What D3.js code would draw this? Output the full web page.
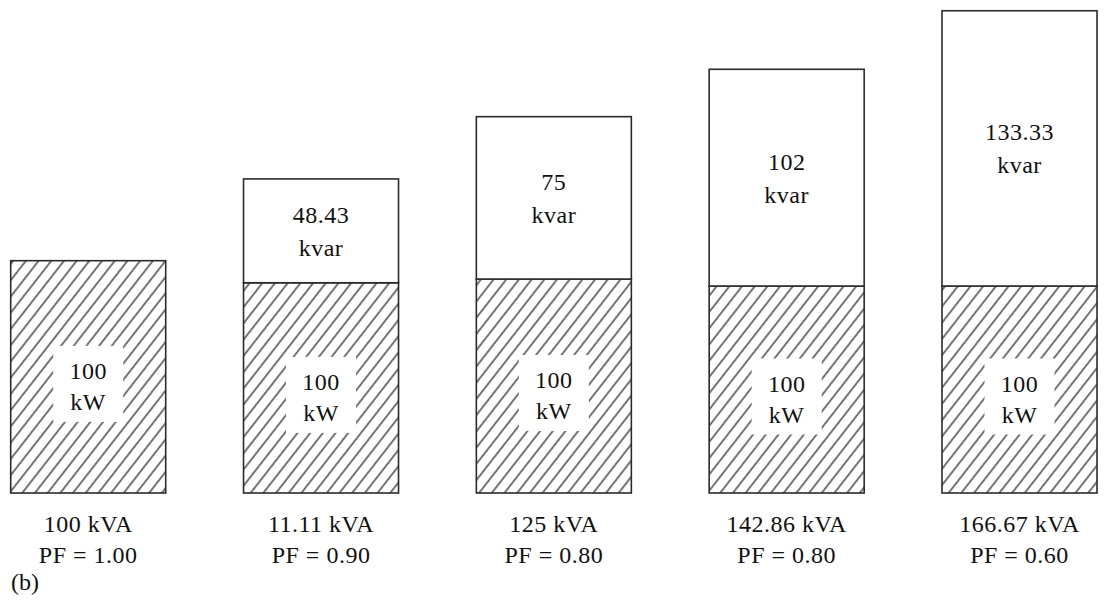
<!DOCTYPE html>
<html>
<head>
<meta charset="utf-8">
<script src="https://cdn.jsdelivr.net/npm/d3@7/dist/d3.min.js"></script>
</head>
<body style="margin:0;background:#fff">
<svg id="chart" width="1107" height="603" font-family="Liberation Serif, Times New Roman, serif"></svg>
<script>
// ---- data ----
const categories   = ["A", "B", "C", "D", "E"];
const kwLabels     = ["100", "100", "100", "100", "100"];
const kvarLabels   = ["", "48.43", "75", "102", "133.33"];
const kvaLabels    = ["100 kVA", "11.11 kVA", "125 kVA", "142.86 kVA", "166.67 kVA"];
const pfLabels     = ["PF = 1.00", "PF = 0.90", "PF = 0.80", "PF = 0.80", "PF = 0.60"];
// apparent drawn heights of each segment (bar 1 total = 100 units)
const kwDrawn      = [100, 90.5, 92.1, 89.1, 89.1];
const kvarDrawn    = [0, 44.7, 69.9, 93.3, 118.5];
const panelLabel   = "(b)";

// ---- layout ----
const FONT = "Liberation Serif, Times New Roman, serif";
const svg = d3.select("#chart").style("font-family", FONT);
const baseY = 493, topRef = 260.7;
const y = d3.scaleLinear().domain([0, 100]).range([baseY, topRef]);
const x = d3.scalePoint().domain(categories).range([88.2, 1019.5]);
const barW = 155;
const ink = "#2b2b2b";
const txt = "#111";

// hatch pattern
const defs = svg.append("defs");
const pat = defs.append("pattern")
  .attr("id", "hatch")
  .attr("patternUnits", "userSpaceOnUse")
  .attr("width", 10).attr("height", 10)
  .attr("patternTransform", "rotate(38)");
pat.append("rect").attr("width", 10).attr("height", 10).attr("fill", "#fff");
pat.append("line").attr("x1", 1).attr("x2", 1).attr("y1", 0).attr("y2", 10)
  .attr("stroke", ink).attr("stroke-width", 1.3);

const rows = categories.map((c, i) => ({
  c, kw: kwDrawn[i], kvar: kvarDrawn[i],
  kwL: kwLabels[i], kvarL: kvarLabels[i], kva: kvaLabels[i], pf: pfLabels[i]
}));

// bars
const barsLayer = svg.append("g");
// kW (hatched) segment
barsLayer.selectAll("rect.kw").data(rows).join("rect").attr("class", "kw")
  .attr("x", d => x(d.c) - barW / 2)
  .attr("y", d => y(d.kw))
  .attr("width", barW)
  .attr("height", d => y(0) - y(d.kw))
  .attr("fill", "url(#hatch)")
  .attr("stroke", ink).attr("stroke-width", 1.6);
// kvar (white) segment
barsLayer.selectAll("rect.kvar").data(rows.filter(d => d.kvar > 0)).join("rect").attr("class", "kvar")
  .attr("x", d => x(d.c) - barW / 2)
  .attr("y", d => y(d.kw + d.kvar))
  .attr("width", barW)
  .attr("height", d => y(d.kw) - y(d.kw + d.kvar))
  .attr("fill", "#fff")
  .attr("stroke", ink).attr("stroke-width", 1.6);

// kW label boxes
const kwB = d => y(d.kw / 2) + 2;
barsLayer.selectAll("rect.box").data(rows).join("rect").attr("class", "box")
  .attr("x", d => x(d.c) - 35)
  .attr("y", d => kwB(d) - 33)
  .attr("width", 70).attr("height", 76)
  .attr("fill", "#fff");

// texts
function labels(cls, data, xf, yf, t) {
  svg.selectAll("text." + cls).data(data).join("text").attr("class", cls)
    .attr("x", xf).attr("y", yf)
    .attr("text-anchor", "middle")
    .attr("font-family", FONT)
    .style("font-family", FONT)
    .attr("font-size", 24)
    .attr("letter-spacing", 0.5)
    .attr("fill", txt)
    .text(t);
}
labels("kw1", rows, d => x(d.c), kwB, d => d.kwL);
labels("kw2", rows, d => x(d.c), d => kwB(d) + 31, "kW");

const kvB = d => y(d.kw + d.kvar / 2) - 8;
const kvRows = rows.filter(d => d.kvar > 0);
labels("kv1", kvRows, d => x(d.c), kvB, d => d.kvarL);
labels("kv2", kvRows, d => x(d.c), d => kvB(d) + 33, "kvar");

labels("kva", rows, d => x(d.c), 531.5, d => d.kva);
labels("pf", rows, d => x(d.c), 563, d => d.pf);

svg.append("text").attr("x", 11).attr("y", 590)
  .attr("font-family", FONT).style("font-family", FONT)
  .attr("font-size", 24).attr("fill", txt)
  .text(panelLabel);
</script>
</body>
</html>
